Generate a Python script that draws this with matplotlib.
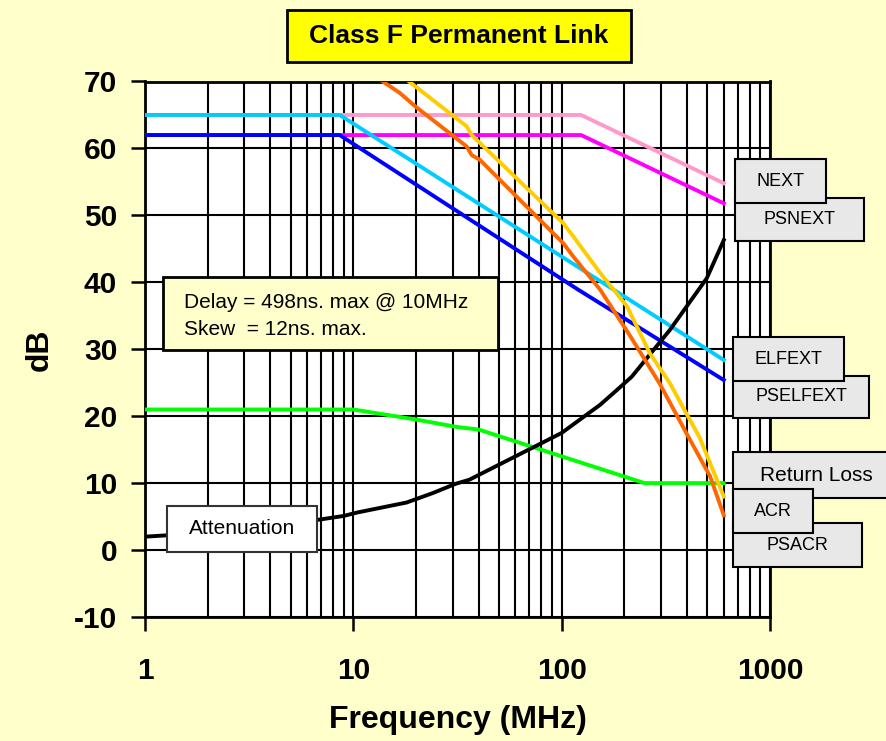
import matplotlib
matplotlib.use('Agg')
import matplotlib.pyplot as plt
from matplotlib.patches import Rectangle
from matplotlib.ticker import LogLocator, NullFormatter

plt.rcParams['font.family'] = ['Liberation Sans', 'DejaVu Sans']
plt.rcParams['axes.unicode_minus'] = False

# limit lines, dB vs MHz
next_f = [1, 124, 600]
next_db = [65, 65, 54.8]
psnext_f = [1, 124, 600]
psnext_db = [62, 62, 51.8]
elfext_f = [1, 8.6, 600]
elfext_db = [65, 65, 28.4]
pselfext_f = [1, 8.6, 120, 600]
pselfext_db = [62, 62, 38.9, 25.4]
rl_f = [1, 10, 20, 31.25, 40, 250, 600]
rl_db = [21, 21, 19.5, 18.4, 18, 10, 10]
att_f = [1, 1.27, 6.7, 9, 10.4, 18, 24, 31, 36, 100, 153, 184, 217, 331, 497, 600]
att_db = [2.0, 2.2, 4.5, 5.1, 5.6, 7.1, 8.5, 9.9, 10.5, 17.5, 21.7, 23.9, 25.9, 32.9, 40.6, 46.3]
acr_f = [16, 18, 35, 37, 102, 114, 153, 206, 265, 331, 405, 458, 600]
acr_db = [71.5, 70.3, 63.3, 62, 48.8, 46.8, 41.4, 36.4, 29.4, 24.9, 19.9, 16.9, 8.0]
psacr_f = [12, 13.4, 16.7, 19.8, 35, 37, 40.5, 102, 114, 153, 212, 295, 398, 516, 600]
psacr_db = [72, 70.3, 68.3, 66.3, 60.3, 59.0, 58.3, 45.8, 43.8, 38.9, 32.1, 24.9, 17.4, 11.0, 5.2]

xticks = [1, 10, 100, 1000]
xtick_labels = ['1', '10', '100', '1000']
yticks = list(range(-10, 71, 10))

W, H = 887, 741
fig = plt.figure(figsize=(W / 100, H / 100), dpi=100, facecolor='#FFFFCC')
ax = fig.add_axes([145 / W, 1 - 617 / H, 625 / W, (617 - 81.5) / H])
ax.set_facecolor('white')

lw = 2.8
ax.plot(next_f, next_db, color='#FF99CC', lw=lw, zorder=3)
ax.plot(psnext_f, psnext_db, color='#FF00FF', lw=lw, zorder=3)
ax.plot(elfext_f, elfext_db, color='#00CCFF', lw=lw, zorder=4)
ax.plot(pselfext_f, pselfext_db, color='#0000FF', lw=lw, zorder=4)
ax.plot(rl_f, rl_db, color='#00FF00', lw=lw, zorder=4)
ax.plot(att_f, att_db, color='black', lw=lw, zorder=4)
ax.plot(acr_f, acr_db, color='#FFCC00', lw=lw, zorder=5)
ax.plot(psacr_f, psacr_db, color='#FF6600', lw=lw, zorder=5)

ax.set_xscale('log')
ax.set_xlim(1, 1000)
ax.set_ylim(-10, 70)
ax.set_xticks(xticks)
ax.set_xticklabels(xtick_labels)
ax.xaxis.set_minor_locator(LogLocator(base=10, subs=range(2, 10)))
ax.xaxis.set_minor_formatter(NullFormatter())
ax.set_yticks(yticks)

ax.grid(which='both', axis='x', color='black', lw=1.5)
ax.grid(which='major', axis='y', color='black', lw=1.5)
ax.set_axisbelow(True)
for s in ax.spines.values():
    s.set_linewidth(2)
ax.tick_params(which='major', direction='out', length=10, width=1.8,
               labelsize=21.5, colors='black')
ax.tick_params(axis='x', which='major', pad=19)
ax.tick_params(axis='y', which='major', pad=10)
ax.tick_params(which='minor', length=0)
for lab in ax.get_xticklabels() + ax.get_yticklabels():
    lab.set_fontweight('bold')

fig.text(457.5 / W, 1 - 720 / H, 'Frequency (MHz)', fontsize=23, fontweight='bold',
         ha='center', va='center')
fig.text(40 / W, 1 - 350 / H, 'dB', fontsize=23, fontweight='bold',
         ha='center', va='center', rotation=90)


def box(x0, y0, x1, y1, text, fill, size, edge='black', elw=1.5, bold=False, z=5):
    r = Rectangle((x0 / W, 1 - y1 / H), (x1 - x0) / W, (y1 - y0) / H,
                  transform=fig.transFigure, facecolor=fill, edgecolor=edge,
                  lw=elw, zorder=z)
    fig.add_artist(r)
    fig.text((x0 + x1) / 2 / W, 1 - (y0 + y1) / 2 / H, text, fontsize=size,
             fontweight='bold' if bold else 'normal', ha='center', va='center',
             zorder=z + 0.5)


box(287, 10, 631, 62, 'Class F Permanent Link', '#FFFF00', 19, elw=2, bold=True)

# curve labels on the right
grey = '#E8E8E8'
box(735, 198, 864, 241, 'PSNEXT', grey, 13, z=5)
box(735, 159, 826, 203, 'NEXT', grey, 13, z=6)
box(733, 376, 869, 418, 'PSELFEXT', grey, 13, z=5)
box(733, 337, 844, 381, 'ELFEXT', grey, 13, z=6)
box(733, 523, 862, 567, 'PSACR', grey, 13, z=5)
box(733, 452, 900, 498, 'Return Loss', grey, 15, z=5)
box(733, 489, 813, 533, 'ACR', grey, 13, z=7)

box(167, 506, 317, 552, 'Attenuation', 'white', 15, edge='#333333')
fig.add_artist(Rectangle((163 / W, 1 - 350 / H), (498 - 163) / W, (350 - 277) / H,
                         transform=fig.transFigure, facecolor='#FFFFCC',
                         edgecolor='black', lw=2, zorder=5))
fig.text(184 / W, 1 - 302 / H, 'Delay = 498ns. max @ 10MHz', fontsize=15,
         ha='left', va='center', zorder=6)
fig.text(184 / W, 1 - 329 / H, 'Skew  = 12ns. max.', fontsize=15,
         ha='left', va='center', zorder=6)

fig.savefig('out.png', dpi=100, facecolor=fig.get_facecolor())
